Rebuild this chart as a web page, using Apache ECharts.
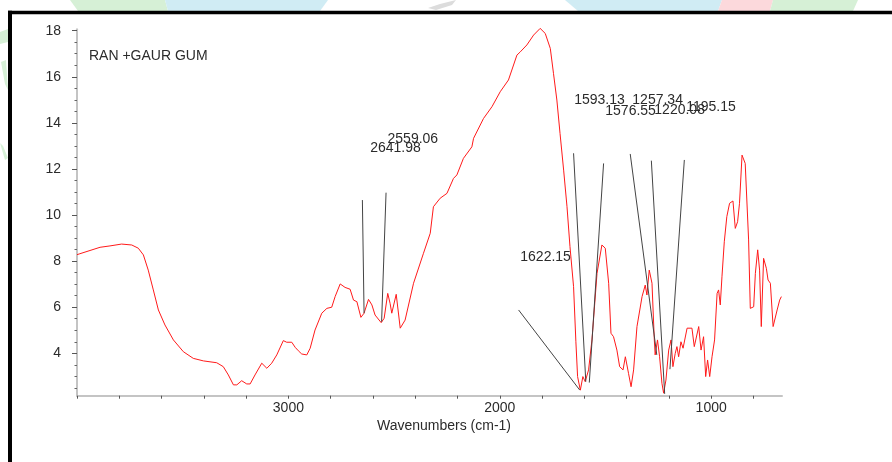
<!DOCTYPE html>
<html>
<head>
<meta charset="utf-8">
<script src="https://cdn.jsdelivr.net/npm/echarts@6/dist/echarts.min.js"></script>
<style>
html,body{margin:0;padding:0;background:#fff;}
#chart{width:892px;height:462px;}
</style>
</head>
<body>
<div id="chart"></div>
<script>
// ---- spectrum data (wavenumber cm-1, value) ----
var wavenumbers = [4000,3990,3891,3844,3789,3741,3710,3686,3663,3639,3615,3584,3544,3497,3450,3402,3339,3308,3284,3260,3244,3221,3197,3181,3158,3126,3102,3079,3055,3024,3008,2984,2968,2953,2937,2913,2897,2874,2842,2818,2795,2779,2755,2732,2708,2692,2676,2657,2642,2621,2605,2590,2561,2547,2530,2519,2511,2490,2471,2448,2408,2361,2329,2314,2282,2250,2219,2203,2172,2132,2124,2077,2037,1998,1959,1919,1903,1872,1840,1809,1785,1761,1746,1730,1715,1698,1682,1668,1651,1640,1632,1619,1607,1596,1580,1564,1540,1517,1501,1485,1474,1462,1446,1433,1417,1406,1391,1379,1367,1351,1327,1312,1304,1293,1280,1269,1265,1254,1244,1233,1225,1214,1201,1190,1181,1170,1162,1154,1143,1133,1114,1091,1080,1059,1048,1036,1026,1017,1007,996,984,972,965,957,949,938,926,913,897,886,875,866,854,847,839,823,815,799,791,780,771,763,752,739,731,720,707,700,688,676,668];
var values = [8.28,8.31,8.60,8.66,8.74,8.70,8.56,8.27,7.61,6.75,5.88,5.23,4.58,4.07,3.78,3.67,3.59,3.42,3.06,2.63,2.63,2.81,2.67,2.67,3.06,3.57,3.35,3.57,3.93,4.55,4.48,4.48,4.26,4.11,3.97,3.93,4.22,5.01,5.74,5.95,6.00,6.46,7.01,6.86,6.78,6.31,6.24,5.56,5.74,6.34,6.10,5.66,5.33,5.52,6.60,6.17,5.74,6.56,5.09,5.44,7.04,8.34,9.21,10.36,10.73,10.94,11.59,11.74,12.46,12.96,13.33,14.19,14.70,15.35,15.86,16.94,17.08,17.38,17.81,18.10,17.88,17.23,16.15,14.99,13.54,11.95,10.36,8.63,6.89,4.50,2.99,2.40,2.99,2.77,3.28,4.58,7.47,8.70,8.56,7.04,4.87,4.72,4.14,3.42,3.28,3.85,3.13,2.55,3.28,5.16,6.46,6.96,6.53,7.61,7.04,4.58,3.93,4.58,3.85,2.70,2.27,2.84,4.14,4.58,3.42,4.00,4.29,3.85,4.50,4.22,5.09,5.09,4.29,5.16,4.14,4.72,2.99,3.71,2.99,3.85,4.58,6.60,6.75,6.10,7.32,8.84,9.93,10.51,10.61,9.42,9.71,10.51,12.60,12.68,12.24,8.92,5.95,6.02,7.47,8.49,7.61,5.16,8.12,7.69,7.18,7.04,5.16,5.09,5.88,6.31,6.46];

// ---- peak annotations ----
var peakNames   = ['2641.98','2559.06','1622.15','1593.13','1576.55','1257.34','1220.08','1195.15'];
var peakX       = [2641.98, 2559.06, 1622.15, 1593.13, 1576.55, 1257.34, 1220.08, 1195.15];
var peakY       = [5.74, 5.37, 2.41, 2.77, 2.73, 3.93, 2.24, 3.31];
var leaderTopX  = [2650, 2538, 1911, 1651, 1509, 1383, 1283, 1127];
var leaderTopY  = [10.65, 10.97, 5.88, 12.68, 12.24, 12.65, 12.36, 12.39];
var labelX      = [2613, 2531, 1903, 1648, 1501, 1373, 1269, 1118];
var labelY      = [12.92, 13.28, 8.19, 14.99, 14.51, 14.99, 14.56, 14.69];

// ---- axes ----
var xLabelValues = [1000, 2000, 3000];
var xTickValues = [800,1000,1200,1400,1600,1800,2000,2200,2400,2600,2800,3000,3200,3400,3600,3800,4000];
var yLabelValues = [4, 6, 8, 10, 12, 14, 16, 18];
var yMinorValues = [2.5,3,3.5,4.5,5,5.5,6.5,7,7.5,8.5,9,9.5,10.5,11,11.5,12.5,13,13.5,14.5,15,15.5,16.5,17,17.5];
var titleText = 'RAN +GAUR GUM';
var xAxisName = 'Wavenumbers (cm-1)';

var FONT = '"Liberation Sans", Arial, sans-serif';
var TXT = '#2b2b2b';

var spectrum = wavenumbers.map(function (w, i) { return [w, values[i]]; });
var leaders = peakX.map(function (p, i) {
  return { coords: [[leaderTopX[i], leaderTopY[i]], [p, peakY[i]]] };
});
var labels = peakNames.map(function (n, i) { return [labelX[i], labelY[i], n]; });

var chart = echarts.init(document.getElementById('chart'), null, { renderer: 'canvas' });
chart.setOption({
  backgroundColor: '#fff',
  animation: false,
  title: {
    text: titleText, left: 84, top: 44,
    textStyle: { fontFamily: FONT, fontSize: 14, fontWeight: 'normal', color: TXT }
  },
  grid: { left: 77, right: 110, top: 29.3, bottom: 66.3 },
  xAxis: {
    type: 'value', min: 665, max: 4000, inverse: true,
    name: xAxisName, nameLocation: 'middle', nameGap: 19,
    nameTextStyle: { fontFamily: FONT, fontSize: 14, color: TXT, padding: [0, 0, 0, 29], verticalAlign: 'top' },
    axisLine: { show: true, lineStyle: { color: '#c4c4c4', width: 2 } },
    axisTick: { show: true, customValues: xTickValues, length: 3, inside: false, lineStyle: { color: '#555', width: 1 } },
    axisLabel: { customValues: xLabelValues, margin: 5, fontFamily: FONT, fontSize: 14, color: TXT,
      formatter: function (v) { return String(v); } },
    splitLine: { show: false }
  },
  yAxis: [{
    type: 'value', min: 2.16, max: 18.06,
    axisLine: { show: true, lineStyle: { color: '#c4c4c4', width: 2 } },
    axisTick: { show: true, customValues: yLabelValues, length: 5, lineStyle: { color: '#555', width: 1 } },
    axisLabel: { customValues: yLabelValues, margin: 16, fontFamily: FONT, fontSize: 14, color: TXT,
      formatter: function (v) { return String(v); } },
    splitLine: { show: false }
  }, {
    type: 'value', min: 2.16, max: 18.06, position: 'left',
    axisLine: { show: false },
    axisTick: { show: true, customValues: yMinorValues, length: 2.5, lineStyle: { color: '#666', width: 1 } },
    axisLabel: { show: false },
    splitLine: { show: false }
  }],
  graphic: [
    { type: 'polygon', silent: true, z: -10, shape: { points: [[70,0],[165,0],[168,11],[78,11]] }, style: { fill: '#d6f0d6' } },
    { type: 'polygon', silent: true, z: -10, shape: { points: [[165,0],[328,0],[320,11],[168,11]] }, style: { fill: '#d0ecf4' } },
    { type: 'polygon', silent: true, z: -10, shape: { points: [[428,8],[440,4],[456,0],[452,5],[436,10]] }, style: { fill: '#dcdcdc' } },
    { type: 'polygon', silent: true, z: -10, shape: { points: [[565,0],[722,0],[718,11],[578,11]] }, style: { fill: '#d0ecf4' } },
    { type: 'polygon', silent: true, z: -10, shape: { points: [[722,0],[773,0],[770,11],[718,11]] }, style: { fill: '#fcd9dc' } },
    { type: 'polygon', silent: true, z: -10, shape: { points: [[773,0],[858,0],[853,11],[770,11]] }, style: { fill: '#d6f0d6' } },
    { type: 'polygon', silent: true, z: -10, shape: { points: [[0,32],[8,29],[8,42],[0,44]] }, style: { fill: '#d6f0d6' } },
    { type: 'polygon', silent: true, z: -10, shape: { points: [[1,62],[6,60],[8,90],[5,84]] }, style: { fill: '#d6f0d6' } },
    { type: 'polygon', silent: true, z: -10, shape: { points: [[0,143],[3,146],[8,158],[5,160]] }, style: { fill: '#d6f0d6' } },
    { type: 'rect', silent: true, z: 10, shape: { x: 8, y: 10.7, width: 884, height: 3.6 }, style: { fill: '#000' } },
    { type: 'rect', silent: true, z: 10, shape: { x: 8, y: 10.7, width: 4, height: 452 }, style: { fill: '#000' } }
  ],
  series: [{
    type: 'line', data: spectrum, xAxisIndex: 0, yAxisIndex: 0,
    showSymbol: false, symbol: 'none', smooth: false, clip: false,
    lineStyle: { color: '#ff1a1a', width: 1 }, z: 3
  }, {
    type: 'lines', coordinateSystem: 'cartesian2d', xAxisIndex: 0, yAxisIndex: 0,
    data: leaders, symbol: ['none', 'none'],
    lineStyle: { color: '#444', width: 1, opacity: 1, curveness: 0 }, z: 4
  }, {
    type: 'scatter', data: labels, xAxisIndex: 0, yAxisIndex: 0,
    symbolSize: 0, silent: true, z: 5,
    itemStyle: { opacity: 1 },
    label: {
      show: true, position: 'right', distance: 0,
      formatter: function (p) { return p.data[2]; },
      fontFamily: FONT, fontSize: 14, color: TXT, opacity: 1
    }
  }]
});
</script>
</body>
</html>
